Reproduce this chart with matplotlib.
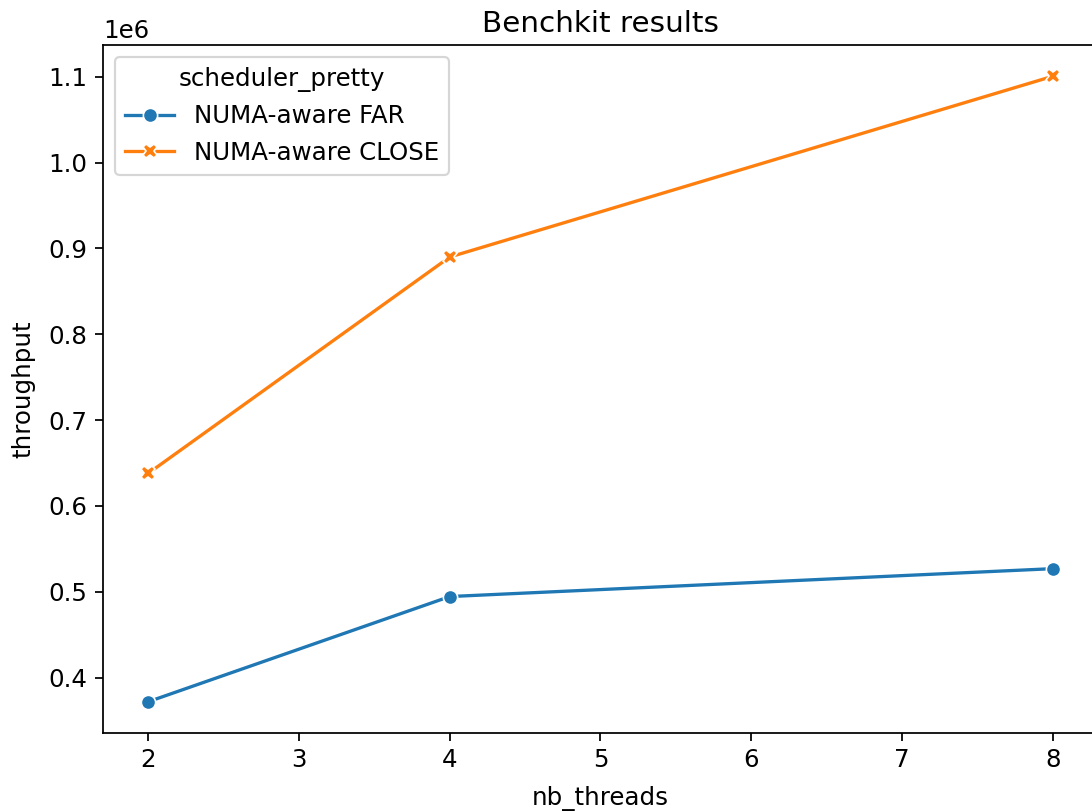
import matplotlib
matplotlib.use("Agg")
import matplotlib.pyplot as plt
import pandas as pd
import seaborn as sns

nb_threads = [2, 4, 8]
far = [372000, 494500, 527000]
close = [638000, 890000, 1100500]
schedulers = ["NUMA-aware FAR", "NUMA-aware CLOSE"]

df = pd.DataFrame({
    "nb_threads": nb_threads * 2,
    "throughput": far + close,
    "scheduler_pretty": [schedulers[0]] * 3 + [schedulers[1]] * 3,
})

plt.rcParams["font.size"] = 11.2
plt.rcParams["lines.markersize"] = 6.5

dpi = 158
fig = plt.figure(figsize=(1092 / dpi, 812 / dpi), dpi=dpi)
ax = fig.add_axes([103 / 1092, 1 - 733 / 812, (1098 - 103) / 1092, (733 - 45) / 812])

sns.lineplot(data=df, x="nb_threads", y="throughput", hue="scheduler_pretty",
             style="scheduler_pretty", markers=True, dashes=False, ax=ax)

ax.set_title("Benchkit results")
ax.set_xlabel("nb_threads", labelpad=6)
ax.set_ylabel("throughput", labelpad=6)

fig.savefig("out.png", dpi=dpi)
